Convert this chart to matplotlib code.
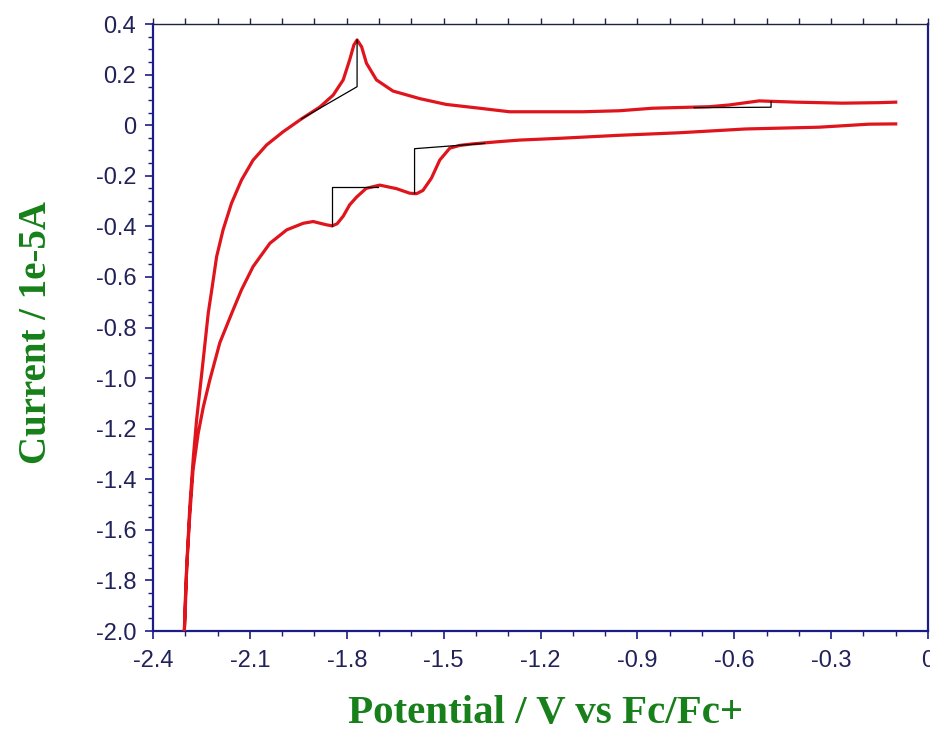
import numpy as np
import matplotlib
matplotlib.use('Agg')
import matplotlib.pyplot as plt
from matplotlib.ticker import MultipleLocator, FuncFormatter

plt.rcParams['axes.unicode_minus'] = False

# cathodic sweep (-0.1 V -> -2.3 V), current in 1e-5 A
fwd_v = [-0.100, -0.182, -0.337, -0.564, -0.770, -0.956, -1.141, -1.265, -1.327,
         -1.409, -1.450, -1.481, -1.512, -1.538, -1.564, -1.584, -1.605, -1.646,
         -1.698, -1.740, -1.770, -1.791, -1.811, -1.830, -1.845, -1.863, -1.904,
         -1.935, -1.986, -2.038, -2.090, -2.126, -2.155, -2.193, -2.224, -2.244,
         -2.260, -2.276, -2.287, -2.296, -2.301, -2.303]
fwd_i = [0.005, 0.004, -0.008, -0.015, -0.030, -0.040, -0.052, -0.059, -0.065,
         -0.074, -0.080, -0.091, -0.138, -0.210, -0.258, -0.271, -0.269, -0.251,
         -0.237, -0.250, -0.285, -0.315, -0.360, -0.390, -0.398, -0.394, -0.381,
         -0.388, -0.414, -0.467, -0.559, -0.651, -0.740, -0.860, -1.007, -1.113,
         -1.218, -1.363, -1.560, -1.758, -1.956, -2.000]

# return sweep (-2.3 V -> -0.1 V)
rev_v = [-2.303, -2.301, -2.294, -2.286, -2.275, -2.265, -2.249, -2.229, -2.218,
         -2.203, -2.183, -2.157, -2.126, -2.090, -2.048, -1.997, -1.940, -1.883,
         -1.842, -1.811, -1.791, -1.778, -1.768, -1.754, -1.739, -1.708, -1.657,
         -1.574, -1.492, -1.389, -1.296, -1.070, -0.956, -0.853, -0.677, -0.615,
         -0.523, -0.409, -0.266, -0.151, -0.100]
rev_i = [-2.000, -1.908, -1.706, -1.508, -1.311, -1.165, -0.981, -0.744, -0.651,
         -0.520, -0.414, -0.309, -0.217, -0.138, -0.078, -0.026, 0.025, 0.072,
         0.119, 0.179, 0.258, 0.317, 0.337, 0.310, 0.245, 0.179, 0.135,
         0.105, 0.082, 0.067, 0.053, 0.053, 0.057, 0.067, 0.073, 0.080,
         0.096, 0.091, 0.087, 0.089, 0.091]

# peak baselines drawn by the instrument software
base_v = [[-1.940, -1.768, -1.768],
          [-1.703, -1.847, -1.847],
          [-1.373, -1.590, -1.590],
          [-0.724, -0.486, -0.486]]
base_i = [[0.025, 0.152, 0.337],
          [-0.243, -0.243, -0.398],
          [-0.072, -0.093, -0.270],
          [0.069, 0.071, 0.093]]

x_ticks = [-2.4, -2.1, -1.8, -1.5, -1.2, -0.9, -0.6, -0.3, 0.0]
y_ticks = [0.4, 0.2, 0.0, -0.2, -0.4, -0.6, -0.8, -1.0, -1.2, -1.4,
           -1.6, -1.8, -2.0]

navy = '#1c1c86'
green = '#17801a'
red = '#e0141c'


def fmt(v, pos=None):
	if abs(v) < 1e-9:
		return '0'
	return '%.1f' % v


fig = plt.figure(figsize=(9.3, 7.53), dpi=100)
ax = fig.add_axes([153 / 930, 122 / 753, 775 / 930, 607 / 753])

v = fwd_v + rev_v
i = fwd_i + rev_i
ax.plot(v, i, color=red, lw=2.3, solid_joinstyle='round', zorder=3)
for bv, bi in zip(base_v, base_i):
	ax.plot(bv, bi, color='black', lw=0.9, zorder=4)

ax.set_xlim(-2.4, 0)
ax.set_ylim(-2.0, 0.4)
ax.set_xticks(x_ticks)
ax.set_yticks(y_ticks)
ax.xaxis.set_minor_locator(MultipleLocator(0.1))
ax.yaxis.set_minor_locator(MultipleLocator(0.05))
ax.xaxis.set_major_formatter(FuncFormatter(fmt))
ax.yaxis.set_major_formatter(FuncFormatter(fmt))

for side in ['left', 'bottom', 'right']:
	ax.spines[side].set_color(navy)
	ax.spines[side].set_linewidth(1.6)
ax.spines['top'].set_visible(False)

ax.tick_params(which='major', direction='out', length=6, width=1.2, color=navy,
               labelsize=17, labelcolor='#22225a', pad=6)
ax.tick_params(which='minor', direction='out', length=3.5, width=1.0, color=navy)
ax.tick_params(axis='x', which='major', pad=8)
for lab in ax.get_xticklabels() + ax.get_yticklabels():
	lab.set_family('Liberation Sans')

top = ax.secondary_xaxis('top')
top.set_xticks(np.arange(-2.4, 0.01, 0.1))
top.set_xticklabels([])
top.tick_params(direction='out', length=4, width=1.0, color='#222244')
top.spines['top'].set_color('#222244')
top.spines['top'].set_linewidth(1.0)

fig.text(546 / 930, 1 - 713 / 753, 'Potential / V vs Fc/Fc+', ha='center', va='center',
         fontsize=29.5, fontweight='bold', family='Liberation Serif', color=green)
fig.text(37 / 930, 1 - 333 / 753, 'Current / 1e-5A', ha='center', va='center', rotation=90,
         fontsize=28, fontweight='bold', family='Liberation Serif', color=green)

plt.savefig('out.png', dpi=100)
